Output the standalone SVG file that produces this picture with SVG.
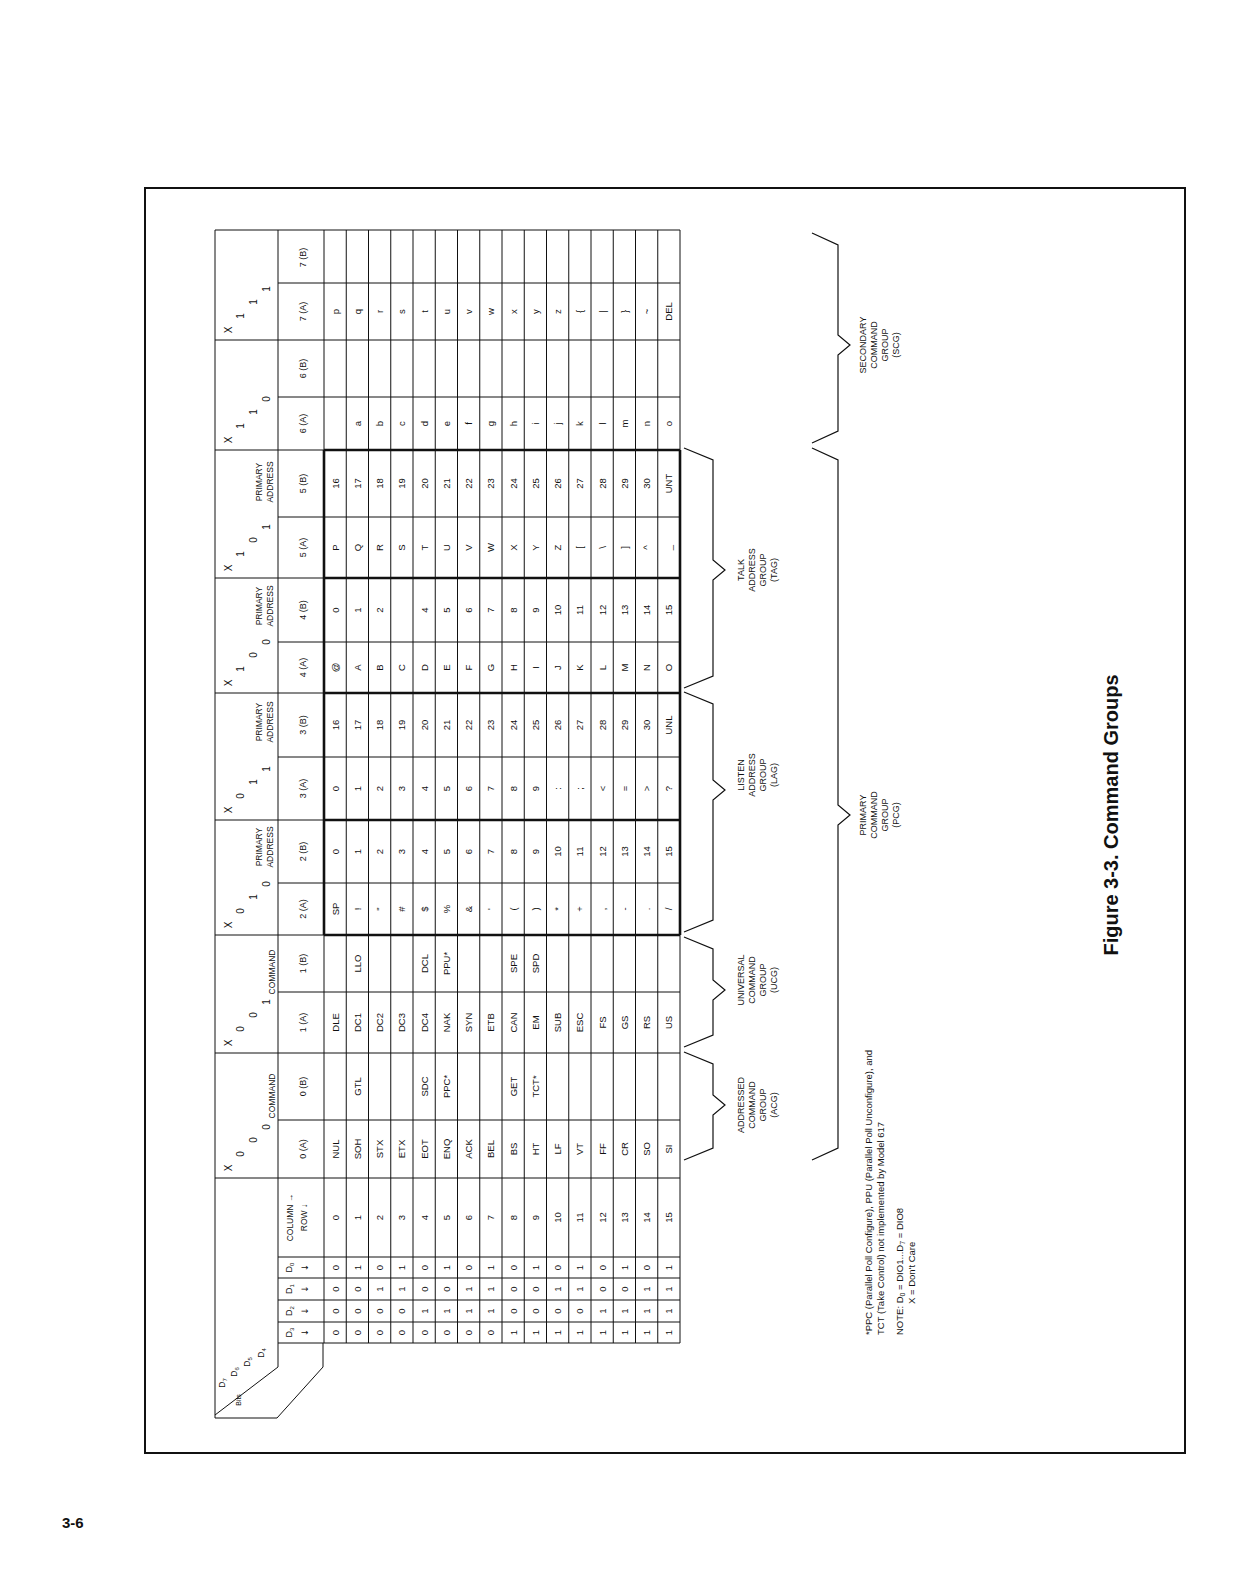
<svg xmlns="http://www.w3.org/2000/svg" width="1236" height="1586" viewBox="0 0 1236 1586">
<style>
text{font-family:"Liberation Sans",Arial,sans-serif;fill:#111}
.d{font-size:9.5px;text-anchor:middle}
.h{font-size:9px;text-anchor:middle}
.s{font-size:8.5px;text-anchor:middle}
.b{font-size:10px;text-anchor:middle}
.l{font-size:9px;text-anchor:middle}
.n{font-size:9.5px}
.t{stroke:#111;stroke-width:1;fill:none}
.k{stroke:#111;stroke-width:2.6;fill:none}
.br{stroke:#111;stroke-width:1.2;fill:none}
</style>
<rect x="145" y="188" width="1040" height="1265" fill="none" stroke="#111" stroke-width="2"/>
<text x="62" y="1528" style="font-size:15px;font-weight:bold">3-6</text>
<g id="connectors">
<path class="br" d="M684,1052 L713,1064 L713,1095 L725,1105 L713,1115 L713,1148 L684,1160"/>
<path class="br" d="M684,937 L713,949 L713,980 L725,990 L713,1000 L713,1035 L684,1047"/>
<path class="br" d="M684,692 L713,704 L713,780 L725,790 L713,800 L713,920 L684,932"/>
<path class="br" d="M684,448 L713,460 L713,560 L725,570 L713,580 L713,676 L684,688"/>
<path class="br" d="M812,448 L838,460 L838,805 L850,815 L838,825 L838,1148 L812,1160"/>
<path class="br" d="M812,233 L838,245 L838,335 L850,345 L838,355 L838,431 L812,443"/>
</g>
<g transform="translate(0,1586) rotate(-90)">
<g id="grid">
<path class="t" d="M168,215 L1356,215 M1356,215 L1356,680 M243,278 L1356,278 M168,215 L168,277 M171,215 L219,278 L243,278 M168,277 L219,323 L243,323"/>
<path class="t" d="M243,324 H1356 M243,346.25 H1356 M243,368.5 H1356 M243,390.75 H1356 M243,413 H1356 M243,435.25 H1356 M243,457.5 H1356 M243,479.75 H1356 M243,502 H1356 M243,524.25 H1356 M243,546.5 H1356 M243,568.75 H1356 M243,591 H1356 M243,613.25 H1356 M243,635.5 H1356 M243,657.75 H1356 M243,680 H1356"/>
<path class="t" d="M1246,215 V680 M1136,215 V680 M1008,215 V680 M893,215 V680 M766,215 V680 M651,215 V680 M533,215 V680 M408,215 V680 M243,278 V680 M264,278 V680 M286,278 V680 M308,278 V680 M329,278 V680 M1303,278 V680 M1189,278 V680 M1069,278 V680 M944,278 V680 M829,278 V680 M703,278 V680 M594,278 V680 M466,278 V680"/>
<path class="k" d="M651,324 H1136 M651,680 H1136 M1136,324 V680 M1008,324 V680 M893,324 V680 M766,324 V680 M651,324 V680"/>
</g>
<g id="bits-corner">
<text x="203" y="225" class="s">D<tspan font-size="6" dy="2">7</tspan></text>
<text x="214" y="237" class="s">D<tspan font-size="6" dy="2">6</tspan></text>
<text x="224" y="250" class="s">D<tspan font-size="6" dy="2">5</tspan></text>
<text x="233" y="264" class="s">D<tspan font-size="6" dy="2">4</tspan></text>
<text x="186" y="241" style="font-size:7px;text-anchor:middle">Bits</text>
</g>
<g id="headers">
<text x="253.5" y="292" class="h">D<tspan font-size="6" dy="2">3</tspan></text>
<text x="275" y="292" class="h">D<tspan font-size="6" dy="2">2</tspan></text>
<text x="297" y="292" class="h">D<tspan font-size="6" dy="2">1</tspan></text>
<text x="318.5" y="292" class="h">D<tspan font-size="6" dy="2">0</tspan></text>
<text x="253.5" y="308" class="h" style="font-family:'DejaVu Sans'">↓</text>
<text x="275" y="308" class="h" style="font-family:'DejaVu Sans'">↓</text>
<text x="297" y="308" class="h" style="font-family:'DejaVu Sans'">↓</text>
<text x="318.5" y="308" class="h" style="font-family:'DejaVu Sans'">↓</text>
<text x="368.5" y="293" class="s">COLUMN →</text>
<text x="368.5" y="307" class="s">ROW ↓</text>
<text x="437" y="306" class="h">0 (A)</text><text x="499.5" y="306" class="h">0 (B)</text>
<text x="563.5" y="306" class="h">1 (A)</text><text x="622.5" y="306" class="h">1 (B)</text>
<text x="677" y="306" class="h">2 (A)</text><text x="734.5" y="306" class="h">2 (B)</text>
<text x="797.5" y="306" class="h">3 (A)</text><text x="861" y="306" class="h">3 (B)</text>
<text x="918.5" y="306" class="h">4 (A)</text><text x="976" y="306" class="h">4 (B)</text>
<text x="1038.5" y="306" class="h">5 (A)</text><text x="1102.5" y="306" class="h">5 (B)</text>
<text x="1162.5" y="306" class="h">6 (A)</text><text x="1217.5" y="306" class="h">6 (B)</text>
<text x="1274.5" y="306" class="h">7 (A)</text><text x="1328.5" y="306" class="h">7 (B)</text>
<g>
<text x="418" y="232" class="b">X</text><text x="432" y="244" class="b">0</text><text x="446" y="257" class="b">0</text><text x="459" y="270" class="b">0</text>
<text x="543" y="232" class="b">X</text><text x="557" y="244" class="b">0</text><text x="571" y="257" class="b">0</text><text x="584" y="270" class="b">1</text>
<text x="661" y="232" class="b">X</text><text x="675" y="244" class="b">0</text><text x="689" y="257" class="b">1</text><text x="702" y="270" class="b">0</text>
<text x="776" y="232" class="b">X</text><text x="790" y="244" class="b">0</text><text x="804" y="257" class="b">1</text><text x="817" y="270" class="b">1</text>
<text x="903" y="232" class="b">X</text><text x="917" y="244" class="b">1</text><text x="931" y="257" class="b">0</text><text x="944" y="270" class="b">0</text>
<text x="1018" y="232" class="b">X</text><text x="1032" y="244" class="b">1</text><text x="1046" y="257" class="b">0</text><text x="1059" y="270" class="b">1</text>
<text x="1146" y="232" class="b">X</text><text x="1160" y="244" class="b">1</text><text x="1174" y="257" class="b">1</text><text x="1187" y="270" class="b">0</text>
<text x="1256" y="232" class="b">X</text><text x="1270" y="244" class="b">1</text><text x="1284" y="257" class="b">1</text><text x="1297" y="270" class="b">1</text>
</g>
<text x="490" y="275" class="s">COMMAND</text>
<text x="614" y="275" class="s">COMMAND</text>
<text x="739" y="262" class="s">PRIMARY</text><text x="739" y="273" class="s">ADDRESS</text>
<text x="864" y="262" class="s">PRIMARY</text><text x="864" y="273" class="s">ADDRESS</text>
<text x="980" y="262" class="s">PRIMARY</text><text x="980" y="273" class="s">ADDRESS</text>
<text x="1104" y="262" class="s">PRIMARY</text><text x="1104" y="273" class="s">ADDRESS</text>
</g>
<g id="data">
<g transform="translate(253.5,0)"><text class="d" y="338.6">0</text><text class="d" y="360.9">0</text><text class="d" y="383.1">0</text><text class="d" y="405.4">0</text><text class="d" y="427.6">0</text><text class="d" y="449.9">0</text><text class="d" y="472.1">0</text><text class="d" y="494.4">0</text><text class="d" y="516.6">1</text><text class="d" y="538.9">1</text><text class="d" y="561.1">1</text><text class="d" y="583.4">1</text><text class="d" y="605.6">1</text><text class="d" y="627.9">1</text><text class="d" y="650.1">1</text><text class="d" y="672.4">1</text></g>
<g transform="translate(275,0)"><text class="d" y="338.6">0</text><text class="d" y="360.9">0</text><text class="d" y="383.1">0</text><text class="d" y="405.4">0</text><text class="d" y="427.6">1</text><text class="d" y="449.9">1</text><text class="d" y="472.1">1</text><text class="d" y="494.4">1</text><text class="d" y="516.6">0</text><text class="d" y="538.9">0</text><text class="d" y="561.1">0</text><text class="d" y="583.4">0</text><text class="d" y="605.6">1</text><text class="d" y="627.9">1</text><text class="d" y="650.1">1</text><text class="d" y="672.4">1</text></g>
<g transform="translate(297,0)"><text class="d" y="338.6">0</text><text class="d" y="360.9">0</text><text class="d" y="383.1">1</text><text class="d" y="405.4">1</text><text class="d" y="427.6">0</text><text class="d" y="449.9">0</text><text class="d" y="472.1">1</text><text class="d" y="494.4">1</text><text class="d" y="516.6">0</text><text class="d" y="538.9">0</text><text class="d" y="561.1">1</text><text class="d" y="583.4">1</text><text class="d" y="605.6">0</text><text class="d" y="627.9">0</text><text class="d" y="650.1">1</text><text class="d" y="672.4">1</text></g>
<g transform="translate(318.5,0)"><text class="d" y="338.6">0</text><text class="d" y="360.9">1</text><text class="d" y="383.1">0</text><text class="d" y="405.4">1</text><text class="d" y="427.6">0</text><text class="d" y="449.9">1</text><text class="d" y="472.1">0</text><text class="d" y="494.4">1</text><text class="d" y="516.6">0</text><text class="d" y="538.9">1</text><text class="d" y="561.1">0</text><text class="d" y="583.4">1</text><text class="d" y="605.6">0</text><text class="d" y="627.9">1</text><text class="d" y="650.1">0</text><text class="d" y="672.4">1</text></g>
<g transform="translate(368.5,0)"><text class="d" y="338.6">0</text><text class="d" y="360.9">1</text><text class="d" y="383.1">2</text><text class="d" y="405.4">3</text><text class="d" y="427.6">4</text><text class="d" y="449.9">5</text><text class="d" y="472.1">6</text><text class="d" y="494.4">7</text><text class="d" y="516.6">8</text><text class="d" y="538.9">9</text><text class="d" y="561.1">10</text><text class="d" y="583.4">11</text><text class="d" y="605.6">12</text><text class="d" y="627.9">13</text><text class="d" y="650.1">14</text><text class="d" y="672.4">15</text></g>
<g transform="translate(437,0)"><text class="d" y="338.6">NUL</text><text class="d" y="360.9">SOH</text><text class="d" y="383.1">STX</text><text class="d" y="405.4">ETX</text><text class="d" y="427.6">EOT</text><text class="d" y="449.9">ENQ</text><text class="d" y="472.1">ACK</text><text class="d" y="494.4">BEL</text><text class="d" y="516.6">BS</text><text class="d" y="538.9">HT</text><text class="d" y="561.1">LF</text><text class="d" y="583.4">VT</text><text class="d" y="605.6">FF</text><text class="d" y="627.9">CR</text><text class="d" y="650.1">SO</text><text class="d" y="672.4">SI</text></g>
<g transform="translate(499.5,0)"><text class="d" y="360.9">GTL</text><text class="d" y="427.6">SDC</text><text class="d" y="449.9">PPC*</text><text class="d" y="516.6">GET</text><text class="d" y="538.9">TCT*</text></g>
<g transform="translate(563.5,0)"><text class="d" y="338.6">DLE</text><text class="d" y="360.9">DC1</text><text class="d" y="383.1">DC2</text><text class="d" y="405.4">DC3</text><text class="d" y="427.6">DC4</text><text class="d" y="449.9">NAK</text><text class="d" y="472.1">SYN</text><text class="d" y="494.4">ETB</text><text class="d" y="516.6">CAN</text><text class="d" y="538.9">EM</text><text class="d" y="561.1">SUB</text><text class="d" y="583.4">ESC</text><text class="d" y="605.6">FS</text><text class="d" y="627.9">GS</text><text class="d" y="650.1">RS</text><text class="d" y="672.4">US</text></g>
<g transform="translate(622.5,0)"><text class="d" y="360.9">LLO</text><text class="d" y="427.6">DCL</text><text class="d" y="449.9">PPU*</text><text class="d" y="516.6">SPE</text><text class="d" y="538.9">SPD</text></g>
<g transform="translate(677,0)"><text class="d" y="338.6">SP</text><text class="d" y="360.9">!</text><text class="d" y="383.1">"</text><text class="d" y="405.4">#</text><text class="d" y="427.6">$</text><text class="d" y="449.9">%</text><text class="d" y="472.1">&amp;</text><text class="d" y="494.4">'</text><text class="d" y="516.6">(</text><text class="d" y="538.9">)</text><text class="d" y="561.1">*</text><text class="d" y="583.4">+</text><text class="d" y="605.6">,</text><text class="d" y="627.9">-</text><text class="d" y="650.1">.</text><text class="d" y="672.4">/</text></g>
<g transform="translate(734.5,0)"><text class="d" y="338.6">0</text><text class="d" y="360.9">1</text><text class="d" y="383.1">2</text><text class="d" y="405.4">3</text><text class="d" y="427.6">4</text><text class="d" y="449.9">5</text><text class="d" y="472.1">6</text><text class="d" y="494.4">7</text><text class="d" y="516.6">8</text><text class="d" y="538.9">9</text><text class="d" y="561.1">10</text><text class="d" y="583.4">11</text><text class="d" y="605.6">12</text><text class="d" y="627.9">13</text><text class="d" y="650.1">14</text><text class="d" y="672.4">15</text></g>
<g transform="translate(797.5,0)"><text class="d" y="338.6">0</text><text class="d" y="360.9">1</text><text class="d" y="383.1">2</text><text class="d" y="405.4">3</text><text class="d" y="427.6">4</text><text class="d" y="449.9">5</text><text class="d" y="472.1">6</text><text class="d" y="494.4">7</text><text class="d" y="516.6">8</text><text class="d" y="538.9">9</text><text class="d" y="561.1">:</text><text class="d" y="583.4">;</text><text class="d" y="605.6">&lt;</text><text class="d" y="627.9">=</text><text class="d" y="650.1">&gt;</text><text class="d" y="672.4">?</text></g>
<g transform="translate(861,0)"><text class="d" y="338.6">16</text><text class="d" y="360.9">17</text><text class="d" y="383.1">18</text><text class="d" y="405.4">19</text><text class="d" y="427.6">20</text><text class="d" y="449.9">21</text><text class="d" y="472.1">22</text><text class="d" y="494.4">23</text><text class="d" y="516.6">24</text><text class="d" y="538.9">25</text><text class="d" y="561.1">26</text><text class="d" y="583.4">27</text><text class="d" y="605.6">28</text><text class="d" y="627.9">29</text><text class="d" y="650.1">30</text><text class="d" y="672.4">UNL</text></g>
<g transform="translate(918.5,0)"><text class="d" y="338.6">@</text><text class="d" y="360.9">A</text><text class="d" y="383.1">B</text><text class="d" y="405.4">C</text><text class="d" y="427.6">D</text><text class="d" y="449.9">E</text><text class="d" y="472.1">F</text><text class="d" y="494.4">G</text><text class="d" y="516.6">H</text><text class="d" y="538.9">I</text><text class="d" y="561.1">J</text><text class="d" y="583.4">K</text><text class="d" y="605.6">L</text><text class="d" y="627.9">M</text><text class="d" y="650.1">N</text><text class="d" y="672.4">O</text></g>
<g transform="translate(976,0)"><text class="d" y="338.6">0</text><text class="d" y="360.9">1</text><text class="d" y="383.1">2</text><text class="d" y="427.6">4</text><text class="d" y="449.9">5</text><text class="d" y="472.1">6</text><text class="d" y="494.4">7</text><text class="d" y="516.6">8</text><text class="d" y="538.9">9</text><text class="d" y="561.1">10</text><text class="d" y="583.4">11</text><text class="d" y="605.6">12</text><text class="d" y="627.9">13</text><text class="d" y="650.1">14</text><text class="d" y="672.4">15</text></g>
<g transform="translate(1038.5,0)"><text class="d" y="338.6">P</text><text class="d" y="360.9">Q</text><text class="d" y="383.1">R</text><text class="d" y="405.4">S</text><text class="d" y="427.6">T</text><text class="d" y="449.9">U</text><text class="d" y="472.1">V</text><text class="d" y="494.4">W</text><text class="d" y="516.6">X</text><text class="d" y="538.9">Y</text><text class="d" y="561.1">Z</text><text class="d" y="583.4">[</text><text class="d" y="605.6">\</text><text class="d" y="627.9">]</text><text class="d" y="650.1">^</text><text class="d" y="672.4">_</text></g>
<g transform="translate(1102.5,0)"><text class="d" y="338.6">16</text><text class="d" y="360.9">17</text><text class="d" y="383.1">18</text><text class="d" y="405.4">19</text><text class="d" y="427.6">20</text><text class="d" y="449.9">21</text><text class="d" y="472.1">22</text><text class="d" y="494.4">23</text><text class="d" y="516.6">24</text><text class="d" y="538.9">25</text><text class="d" y="561.1">26</text><text class="d" y="583.4">27</text><text class="d" y="605.6">28</text><text class="d" y="627.9">29</text><text class="d" y="650.1">30</text><text class="d" y="672.4">UNT</text></g>
<g transform="translate(1162.5,0)"><text class="d" y="360.9">a</text><text class="d" y="383.1">b</text><text class="d" y="405.4">c</text><text class="d" y="427.6">d</text><text class="d" y="449.9">e</text><text class="d" y="472.1">f</text><text class="d" y="494.4">g</text><text class="d" y="516.6">h</text><text class="d" y="538.9">i</text><text class="d" y="561.1">j</text><text class="d" y="583.4">k</text><text class="d" y="605.6">l</text><text class="d" y="627.9">m</text><text class="d" y="650.1">n</text><text class="d" y="672.4">o</text></g>
<g transform="translate(1274.5,0)"><text class="d" y="338.6">p</text><text class="d" y="360.9">q</text><text class="d" y="383.1">r</text><text class="d" y="405.4">s</text><text class="d" y="427.6">t</text><text class="d" y="449.9">u</text><text class="d" y="472.1">v</text><text class="d" y="494.4">w</text><text class="d" y="516.6">x</text><text class="d" y="538.9">y</text><text class="d" y="561.1">z</text><text class="d" y="583.4">{</text><text class="d" y="605.6">|</text><text class="d" y="627.9">}</text><text class="d" y="650.1">~</text><text class="d" y="672.4">DEL</text></g>
</g>
<g id="acg"><text class="l" x="481" y="744">ADDRESSED</text><text class="l" x="481" y="755">COMMAND</text><text class="l" x="481" y="766">GROUP</text><text class="l" x="481" y="777">(ACG)</text></g>
<g id="ucg"><text class="l" x="606" y="744">UNIVERSAL</text><text class="l" x="606" y="755">COMMAND</text><text class="l" x="606" y="766">GROUP</text><text class="l" x="606" y="777">(UCG)</text></g>
<g id="lag"><text class="l" x="811" y="744">LISTEN</text><text class="l" x="811" y="755">ADDRESS</text><text class="l" x="811" y="766">GROUP</text><text class="l" x="811" y="777">(LAG)</text></g>
<g id="tag"><text class="l" x="1016" y="744">TALK</text><text class="l" x="1016" y="755">ADDRESS</text><text class="l" x="1016" y="766">GROUP</text><text class="l" x="1016" y="777">(TAG)</text></g>
<g id="pcg"><text class="l" x="771" y="866">PRIMARY</text><text class="l" x="771" y="877">COMMAND</text><text class="l" x="771" y="888">GROUP</text><text class="l" x="771" y="899">(PCG)</text></g>
<g id="scg"><text class="l" x="1241" y="866">SECONDARY</text><text class="l" x="1241" y="877">COMMAND</text><text class="l" x="1241" y="888">GROUP</text><text class="l" x="1241" y="899">(SCG)</text></g>
<g id="notes">
<text class="n" x="251" y="872">*PPC (Parallel Poll Configure), PPU (Parallel Poll Unconfigure), and</text>
<text class="n" x="251" y="884">TCT (Take Control) not implemented by Model 617</text>
<text class="n" x="251" y="903">NOTE: D<tspan font-size="7" dy="2">0</tspan><tspan dy="-2"> = DIO1...D</tspan><tspan font-size="7" dy="2">7</tspan><tspan dy="-2"> = DIO8</tspan></text>
<text class="n" x="282" y="915">X = Don't Care</text>
</g>
<text x="771" y="1118" style="font-size:20px;font-weight:bold;text-anchor:middle">Figure 3-3. Command Groups</text>
</g>
</svg>
